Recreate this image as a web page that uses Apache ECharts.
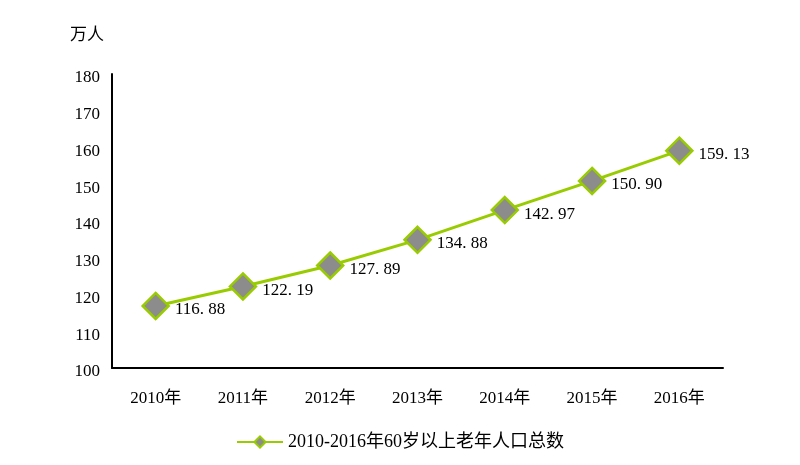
<!DOCTYPE html>
<html><head><meta charset="utf-8">
<script src="https://cdn.jsdelivr.net/npm/echarts@6/dist/echarts.min.js"></script>
<style>html,body{margin:0;padding:0;background:#fff}#c{width:800px;height:465px}</style>
</head><body><div id="c"></div>
<script>
var categories = ['2010年','2011年','2012年','2013年','2014年','2015年','2016年'];
var values = [116.88, 122.19, 127.89, 134.88, 142.97, 150.90, 159.13];
var seriesName = '2010-2016年60岁以上老年人口总数';
var unitName = '万人';
var FONT = '"Liberation Serif","Noto Sans CJK SC",serif';
var chart = echarts.init(document.getElementById('c'));
chart.setOption({
  animation:false,
  grid:{left:112,right:77,top:74,bottom:97},
  legend:{bottom:9,left:'center',itemWidth:46,itemHeight:14,itemGap:6,
    textStyle:{fontFamily:FONT,fontSize:18,color:'#000'},
    data:[seriesName]},
  xAxis:{type:'category',data:categories,
    axisLine:{lineStyle:{color:'#000',width:2}},
    axisTick:{show:false},
    axisLabel:{fontFamily:FONT,fontSize:17,color:'#000',margin:22}},
  yAxis:{type:'value',min:100,max:180,interval:10,
    name:unitName,nameLocation:'end',nameGap:30,
    nameTextStyle:{fontFamily:FONT,fontSize:17,color:'#000',align:'right',padding:[0,8,0,0]},
    axisLine:{show:true,lineStyle:{color:'#000',width:2}},
    axisTick:{show:false},
    splitLine:{show:false},
    axisLabel:{fontFamily:FONT,fontSize:17,color:'#000',margin:12,
      formatter:function(v){return '{a|'+v+'}';},
      rich:{a:{fontFamily:FONT,fontSize:17,color:'#000',padding:[8,0,0,0]}}}},
  series:[{name:seriesName,type:'line',data:values,
    symbol:'diamond',symbolSize:26,
    lineStyle:{color:'#99CC00',width:3},
    itemStyle:{color:'#8C8C8C',borderColor:'#99CC00',borderWidth:2.5},
    label:{show:true,position:'right',distance:5,offset:[0,4],
      formatter:function(p){return p.value.toFixed(2).replace('.', '. ');},
      fontFamily:FONT,fontSize:17,color:'#000'}}]
});
</script></body></html>
